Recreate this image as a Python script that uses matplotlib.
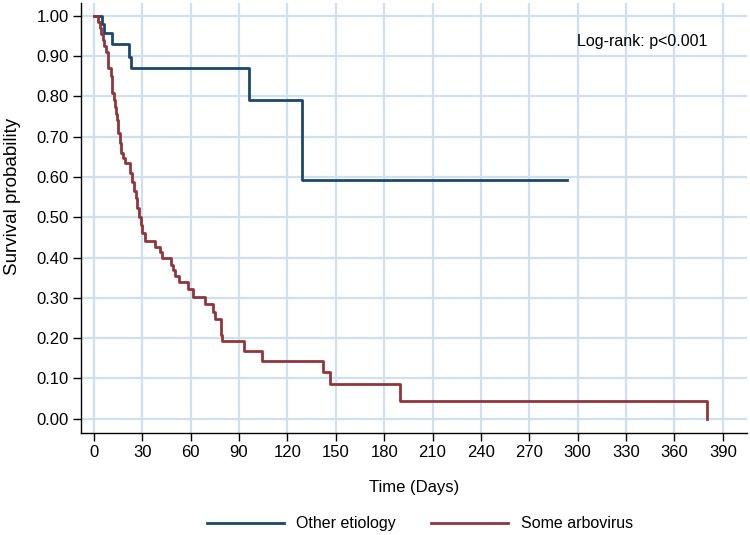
import numpy as np
import matplotlib.pyplot as plt

# Curvas de Kaplan-Meier (tiempo en dias, supervivencia)
other_t = [0, 5.0, 6.2, 11.2, 21.5, 23.2, 96.3, 129.0, 293.6]
other_s = [1.0, 0.979, 0.956, 0.930, 0.898, 0.869, 0.792, 0.593, 0.593]

arbo_t = [0, 2.5, 3.5, 4.5, 5.5, 6.5, 7.5, 9, 10.5, 11, 11.5, 12.5, 13, 14, 14.5,
          15, 16, 17, 18, 19, 22.4, 23.5, 24.8, 25.9, 27, 28, 29, 30, 31.5, 37.9,
          41, 42, 47.8, 49.3, 50.3, 52.8, 58.6, 61.7, 69, 74.1, 75.2, 78.7, 79.7,
          92.8, 104, 142, 146.6, 189.6, 380.5]
arbo_s = [1.0, 0.985, 0.97, 0.955, 0.94, 0.925, 0.91, 0.87, 0.85, 0.83, 0.808, 0.79,
          0.774, 0.757, 0.741, 0.709, 0.684, 0.66, 0.647, 0.634, 0.609, 0.588, 0.564,
          0.547, 0.523, 0.5, 0.48, 0.461, 0.441, 0.427, 0.414, 0.4, 0.382, 0.369,
          0.355, 0.338, 0.322, 0.302, 0.284, 0.266, 0.248, 0.208, 0.192, 0.167,
          0.142, 0.115, 0.087, 0.043, 0.0]

labels = ['Other etiology', 'Some arbovirus']
colors = ['#1a476f', '#90353b']
xticks = np.arange(0, 391, 30)
yticks = np.arange(0, 1.01, 0.1)

plt.rcParams['font.family'] = ['Liberation Sans', 'DejaVu Sans']

fig = plt.figure(figsize=(7.5, 5.35), dpi=100)
ax = fig.add_axes([0.108, 0.191, 0.888, 0.803])

grid_color = '#cfe1ee'
for x in xticks:
    ax.axvline(x, color=grid_color, lw=1.6, zorder=0)
for y in yticks:
    ax.axhline(y, color=grid_color, lw=1.6, zorder=0)

l1, = ax.step(other_t, other_s, where='post', color=colors[0], lw=2.0, zorder=3)
l2, = ax.step(arbo_t, arbo_s, where='post', color=colors[1], lw=2.0, zorder=4)

ax.text(299.5, 0.937, 'Log-rank: p<0.001', fontsize=11.5, ha='left', va='center')

ax.set_xlim(-8, 405)
ax.set_ylim(-0.035, 1.031)
ax.set_xticks(xticks)
ax.set_yticks(yticks)
ax.set_yticklabels(['%.2f' % v for v in yticks])
ax.tick_params(axis='both', direction='out', length=6, width=1, labelsize=12, pad=3)
for s in ['top', 'right']:
    ax.spines[s].set_visible(False)
ax.spines['left'].set_linewidth(1.0)
ax.spines['bottom'].set_linewidth(1.0)

ax.set_xlabel('Time (Days)', fontsize=12, labelpad=14)
ax.set_ylabel('Survival probability', fontsize=13.5)
ax.yaxis.set_label_coords(-0.09, 0.551)

ax.legend([l1, l2], labels, loc='center', bbox_to_anchor=(0.509, -0.212),
          ncol=2, frameon=False, fontsize=11.5, handlelength=4.8,
          handletextpad=0.8, columnspacing=2.2)

fig.savefig('out.png', dpi=100)
